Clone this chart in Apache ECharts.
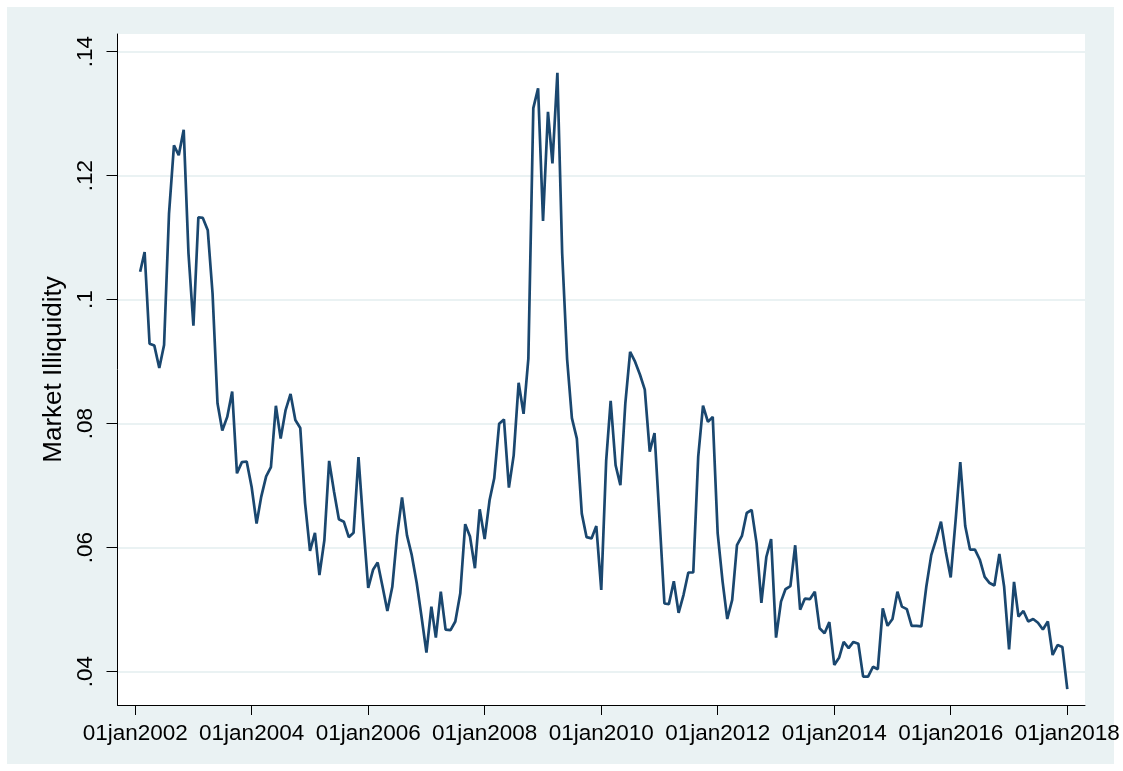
<!DOCTYPE html>
<html>
<head>
<meta charset="utf-8">
<title>Market Illiquidity</title>
<script src="https://cdn.jsdelivr.net/npm/echarts@6/dist/echarts.min.js"></script>
<style>
  html, body { margin: 0; padding: 0; background: #ffffff; }
  #chart { width: 1123px; height: 771px; }
</style>
</head>
<body>
<div id="chart"></div>
<script>
// Monthly market illiquidity, Feb 2002 - Jan 2018
const firstMonth = { year: 2002, month: 2 };
const illiquidity = [
  0.1045, 0.1077, 0.0929, 0.0926, 0.0890, 0.0927, 0.1139, 0.1249, 0.1233, 0.1274, 0.1075, 0.0958,
  0.1133, 0.1132, 0.1112, 0.1010, 0.0833, 0.0789, 0.0811, 0.0852, 0.0720, 0.0738, 0.0739, 0.0698,
  0.0639, 0.0682, 0.0715, 0.0730, 0.0829, 0.0776, 0.0822, 0.0848, 0.0806, 0.0793, 0.0672, 0.0595,
  0.0624, 0.0556, 0.0612, 0.0740, 0.0690, 0.0646, 0.0642, 0.0617, 0.0624, 0.0746, 0.0639, 0.0535,
  0.0565, 0.0576, 0.0537, 0.0498, 0.0537, 0.0620, 0.0681, 0.0620, 0.0588, 0.0543, 0.0489, 0.0431,
  0.0505, 0.0455, 0.0529, 0.0468, 0.0467, 0.0481, 0.0526, 0.0638, 0.0618, 0.0567, 0.0662, 0.0614,
  0.0677, 0.0712, 0.0800, 0.0807, 0.0697, 0.0749, 0.0866, 0.0816, 0.0905, 0.1309, 0.1341, 0.1127,
  0.1303, 0.1220, 0.1366, 0.1075, 0.0904, 0.0809, 0.0776, 0.0655, 0.0617, 0.0615, 0.0635, 0.0532,
  0.0741, 0.0837, 0.0733, 0.0701, 0.0833, 0.0916, 0.0900, 0.0879, 0.0855, 0.0755, 0.0785, 0.0648,
  0.0510, 0.0509, 0.0546, 0.0495, 0.0524, 0.0560, 0.0560, 0.0747, 0.0829, 0.0803, 0.0811, 0.0623,
  0.0545, 0.0485, 0.0516, 0.0604, 0.0619, 0.0656, 0.0661, 0.0607, 0.0511, 0.0585, 0.0614, 0.0455,
  0.0513, 0.0533, 0.0538, 0.0604, 0.0500, 0.0518, 0.0517, 0.0529, 0.0470, 0.0462, 0.0480, 0.0411,
  0.0423, 0.0448, 0.0438, 0.0448, 0.0445, 0.0392, 0.0392, 0.0408, 0.0404, 0.0502, 0.0474, 0.0485,
  0.0529, 0.0505, 0.0501, 0.0474, 0.0474, 0.0473, 0.0537, 0.0588, 0.0613, 0.0642, 0.0594, 0.0552,
  0.0645, 0.0738, 0.0635, 0.0597, 0.0597, 0.0581, 0.0553, 0.0543, 0.0539, 0.0590, 0.0537, 0.0436,
  0.0545, 0.0489, 0.0498, 0.0481, 0.0485, 0.0479, 0.0468, 0.0481, 0.0427, 0.0443, 0.0440, 0.0372
];
const xTickDates = ['2002-01-01', '2004-01-01', '2006-01-01', '2008-01-01', '2010-01-01',
                    '2012-01-01', '2014-01-01', '2016-01-01', '2018-01-01'];
const yTicks = [0.04, 0.06, 0.08, 0.10, 0.12, 0.14];
const yTitle = 'Market Illiquidity';

const monthNames = ['jan','feb','mar','apr','may','jun','jul','aug','sep','oct','nov','dec'];
const utc = s => { const p = s.split('-').map(Number); return Date.UTC(p[0], p[1] - 1, p[2]); };

// dates are kept as UTC milliseconds on a numeric axis
const seriesData = illiquidity.map((v, i) =>
  [Date.UTC(firstMonth.year, firstMonth.month - 1 + i, 1), v]);
const xTickValues = xTickDates.map(utc);

const FONT = '"Liberation Sans", Arial, sans-serif';
const chart = echarts.init(document.getElementById('chart'), null, { renderer: 'canvas' });

chart.setOption({
  animation: false,
  backgroundColor: '#ffffff',
  textStyle: { fontFamily: FONT, color: '#000000' },
  graphic: [{
    type: 'rect',
    z: -100,
    silent: true,
    shape: { x: 7, y: 7, width: 1107, height: 757 },
    style: { fill: '#eaf2f3' }
  }],
  grid: {
    left: 117.5, top: 34, right: 38, bottom: 66,
    show: true, backgroundColor: '#ffffff', borderWidth: 0
  },
  xAxis: {
    type: 'value',
    min: utc('2001-09-12'),
    max: utc('2018-04-22'),
    axisLine: { show: true, lineStyle: { color: '#000000', width: 1 } },
    axisTick: { show: true, length: 10, customValues: xTickValues,
                lineStyle: { color: '#000000', width: 1 } },
    axisLabel: {
      customValues: xTickValues,
      margin: 17,
      fontSize: 22.5,
      fontFamily: FONT,
      color: '#000000',
      hideOverlap: false,
      formatter: v => {
        const d = new Date(v);
        const day = String(d.getUTCDate()).padStart(2, '0');
        return day + monthNames[d.getUTCMonth()] + d.getUTCFullYear();
      }
    },
    splitLine: { show: false }
  },
  yAxis: {
    type: 'value',
    min: 0.03463,
    max: 0.14286,
    name: yTitle,
    nameLocation: 'middle',
    nameRotate: 90,
    nameGap: 50,
    nameTextStyle: { fontSize: 26, fontFamily: FONT, color: '#000000' },
    axisLine: { show: true, lineStyle: { color: '#000000', width: 1 } },
    axisTick: { show: true, length: 11, customValues: yTicks,
                lineStyle: { color: '#000000', width: 1 } },
    axisLabel: {
      customValues: yTicks,
      rotate: 90,
      margin: 20,
      fontSize: 22.5,
      fontFamily: FONT,
      color: '#000000',
      formatter: v => String(+v.toFixed(2)).replace(/^0/, '')
    },
    splitLine: { show: true, lineStyle: { color: '#eaf2f3', width: 2 } }
  },
  series: [{
    type: 'line',
    data: seriesData,
    showSymbol: false,
    symbol: 'none',
    lineStyle: { color: '#1a476f', width: 2.7 },
    z: 5
  }]
});
</script>
</body>
</html>
